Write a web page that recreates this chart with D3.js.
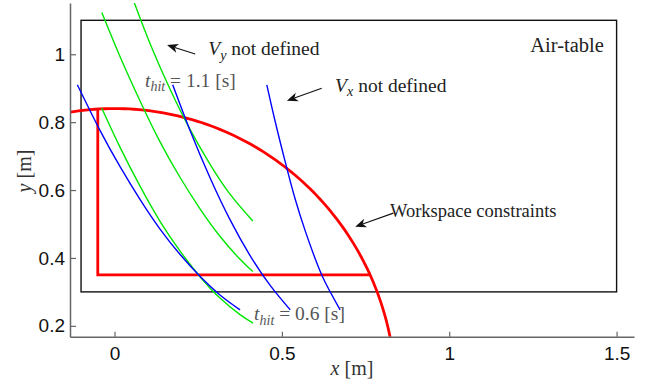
<!DOCTYPE html>
<html>
<head>
<meta charset="utf-8">
<script src="https://cdn.jsdelivr.net/npm/d3@7/dist/d3.min.js"></script>
<style>
  html, body { margin: 0; padding: 0; background: #fff; }
  svg { display: block; }
</style>
</head>
<body>
<svg id="chart" width="647" height="383"></svg>
<script>
// ---- data (metres) ----
const xTicks = [0, 0.5, 1, 1.5];
const yTicks = [0.2, 0.4, 0.6, 0.8, 1];
const xTickLabels = ["0", "0.5", "1", "1.5"];
const yTickLabels = ["0.2", "0.4", "0.6", "0.8", "1"];

// air-table boundary [xmin, xmax, ymin, ymax]
const airTable = [-0.1, 1.5, 0.3, 1.1];
// workspace: reach circle radius and inner box corner
const workspaceRadius = 0.84;
const workspaceCorner = [-0.05, 0.35];

// trajectories reaching the hit point at t_hit = 0.6 s (blue)
const blue1 = [[-0.111,0.910],[-0.043,0.775],[0.017,0.668],[0.077,0.571],[0.136,0.485],[0.196,0.410],[0.256,0.345],[0.315,0.291],[0.375,0.247]];
const blue2 = [[0.174,0.910],[0.226,0.775],[0.286,0.635],[0.345,0.513],[0.405,0.407],[0.465,0.319],[0.525,0.247]];
const blue3 = [[0.455,0.910],[0.480,0.802],[0.510,0.683],[0.539,0.576],[0.569,0.482],[0.599,0.399],[0.629,0.329],[0.674,0.247]];
// trajectories reaching the hit point at t_hit = 1.1 s (green)
const green1 = [[-0.038,1.123],[0.017,0.992],[0.077,0.861],[0.136,0.742],[0.196,0.637],[0.256,0.544],[0.315,0.464],[0.375,0.396],[0.413,0.360]];
const green2 = [[0.059,1.152],[0.106,1.032],[0.166,0.897],[0.226,0.778],[0.286,0.675],[0.345,0.588],[0.413,0.509]];
const green3 = [[-0.038,0.841],[0.017,0.725],[0.077,0.610],[0.136,0.508],[0.196,0.420],[0.256,0.344],[0.315,0.282],[0.375,0.233],[0.414,0.208]];

const blueSeries = [blue1, blue2, blue3];
const greenSeries = [green1, green2, green3];

// text annotations
const annotations = [
  { parts: [["Air-table", "normal", 0]], pos: [1.462, 1.008], anchor: "end", size: 20.5, color: "#222" },
  { parts: [["V", "italic", 0], ["y", "italic", 1], [" not defined", "normal", 0]], pos: [0.280, 0.998], anchor: "start", size: 19.5, color: "#222" },
  { parts: [["V", "italic", 0], ["x", "italic", 1], [" not defined", "normal", 0]], pos: [0.659, 0.890], anchor: "start", size: 19.5, color: "#222" },
  { parts: [["t", "italic", 0], ["hit", "italic", 1], [" = 1.1 [s]", "normal", 0]], pos: [0.091, 0.905], anchor: "start", size: 19.5, color: "#555" },
  { parts: [["t", "italic", 0], ["hit", "italic", 1], [" = 0.6 [s]", "normal", 0]], pos: [0.417, 0.218], anchor: "start", size: 19.5, color: "#555" },
  { parts: [["Workspace constraints", "normal", 0]], pos: [0.823, 0.522], anchor: "start", size: 18.5, color: "#222" }
];
// arrows: [tail, tip]
const arrows = [
  [[0.241, 1.001], [0.157, 1.027]],
  [[0.619, 0.900], [0.515, 0.863]],
  [[0.833, 0.532], [0.719, 0.492]]
];

// ---- scales ----
const x = d3.scaleLinear().domain([-0.133, 1.552]).range([70, 634]);
const y = d3.scaleLinear().domain([0.168, 1.151]).range([336.7, 3]);

const svg = d3.select("#chart");

svg.append("defs").append("clipPath").attr("id", "plot-clip")
  .append("rect")
  .attr("x", x.range()[0]).attr("y", y.range()[1])
  .attr("width", x.range()[1] - x.range()[0])
  .attr("height", y.range()[0] - y.range()[1]);

const plot = svg.append("g").attr("clip-path", "url(#plot-clip)");

// air-table boundary
plot.append("rect")
  .attr("x", x(airTable[0])).attr("y", y(airTable[3]))
  .attr("width", x(airTable[1]) - x(airTable[0]))
  .attr("height", y(airTable[2]) - y(airTable[3]))
  .attr("fill", "none").attr("stroke", "#111").attr("stroke-width", 1.4);

const line = d3.line().x(d => x(d[0])).y(d => y(d[1])).curve(d3.curveNatural);

// workspace: circle of reach plus the inner box edges
const arcPts = d3.range(100, -31, -1).map(a => {
  const r = a * Math.PI / 180;
  return [workspaceRadius * Math.cos(r), workspaceRadius * Math.sin(r)];
});
plot.append("path")
  .attr("d", d3.line().x(d => x(d[0])).y(d => y(d[1]))(arcPts))
  .attr("fill", "none").attr("stroke", "#ff0000").attr("stroke-width", 2.8);

const cx = workspaceCorner[0], cy = workspaceCorner[1];
const boxPts = [
  [cx, Math.sqrt(workspaceRadius * workspaceRadius - cx * cx)],
  [cx, cy],
  [Math.sqrt(workspaceRadius * workspaceRadius - cy * cy), cy]
];
plot.append("path")
  .attr("d", d3.line().x(d => x(d[0])).y(d => y(d[1]))(boxPts))
  .attr("fill", "none").attr("stroke", "#ff0000").attr("stroke-width", 2.8)
  .attr("stroke-linejoin", "miter");

// trajectories
plot.selectAll("path.green").data(greenSeries).enter().append("path")
  .attr("class", "green")
  .attr("d", line)
  .attr("fill", "none").attr("stroke", "#00e600").attr("stroke-width", 1.4);

plot.selectAll("path.blue").data(blueSeries).enter().append("path")
  .attr("class", "blue")
  .attr("d", line)
  .attr("fill", "none").attr("stroke", "#0000ff").attr("stroke-width", 1.4);

// ---- axes ----
const axisColor = "#666";
const xAxis = d3.axisBottom(x).tickValues(xTicks)
  .tickFormat((d, i) => xTickLabels[i])
  .tickSizeInner(-5).tickSizeOuter(0).tickPadding(10);
const yAxis = d3.axisLeft(y).tickValues(yTicks)
  .tickFormat((d, i) => yTickLabels[i])
  .tickSizeInner(-6).tickSizeOuter(0).tickPadding(5);

const gx = svg.append("g").attr("transform", `translate(0,${y.range()[0]})`).call(xAxis);
const gy = svg.append("g").attr("transform", `translate(${x.range()[0]},0)`).call(yAxis);
[gx, gy].forEach(g => {
  g.select(".domain").attr("stroke", axisColor).attr("stroke-width", 1.5);
  g.selectAll(".tick line").attr("stroke", axisColor).attr("stroke-width", 1.2);
  g.selectAll(".tick text")
    .attr("fill", "#111")
    .style("font-family", "'Liberation Sans', Arial, sans-serif")
    .style("font-size", "19px");
});

// axis titles
const serif = "'Liberation Serif', 'Times New Roman', serif";
const xt = svg.append("text")
  .attr("x", 352).attr("y", 375).attr("text-anchor", "middle")
  .style("font-family", serif).style("font-size", "20px").attr("fill", "#333");
xt.append("tspan").text("x").style("font-style", "italic");
xt.append("tspan").text(" [m]");

const yt = svg.append("text")
  .attr("transform", "translate(31,171) rotate(-90)").attr("text-anchor", "middle")
  .style("font-family", serif).style("font-size", "20px").attr("fill", "#333");
yt.append("tspan").text("y").style("font-style", "italic");
yt.append("tspan").text(" [m]");

// annotations
annotations.forEach(a => {
  const t = svg.append("text")
    .attr("x", x(a.pos[0])).attr("y", y(a.pos[1]))
    .attr("text-anchor", a.anchor)
    .style("font-family", serif).style("font-size", a.size + "px")
    .attr("fill", a.color);
  let shifted = false;
  a.parts.forEach(p => {
    const s = t.append("tspan").text(p[0]).style("font-style", p[1]);
    if (p[2] === 1) {
      s.style("font-size", (a.size * 0.72) + "px").attr("dy", a.size * 0.25);
      shifted = true;
    } else if (shifted) {
      s.attr("dy", -a.size * 0.25);
      shifted = false;
    }
  });
});

// arrows with barbed heads
arrows.forEach(([tail, tip]) => {
  const x0 = x(tail[0]), y0 = y(tail[1]), x1 = x(tip[0]), y1 = y(tip[1]);
  const ang = Math.atan2(y1 - y0, x1 - x0);
  const len = 11, half = 4.5, back = 8;
  const ux = Math.cos(ang), uy = Math.sin(ang), px = -uy, py = ux;
  svg.append("line")
    .attr("x1", x0).attr("y1", y0)
    .attr("x2", x1 - ux * back).attr("y2", y1 - uy * back)
    .attr("stroke", "#111").attr("stroke-width", 1.1);
  const head = [
    [x1, y1],
    [x1 - ux * len + px * half, y1 - uy * len + py * half],
    [x1 - ux * back, y1 - uy * back],
    [x1 - ux * len - px * half, y1 - uy * len - py * half]
  ];
  svg.append("path").attr("d", "M" + head.map(p => p.join(",")).join("L") + "Z")
    .attr("fill", "#111");
});
</script>
</body>
</html>
